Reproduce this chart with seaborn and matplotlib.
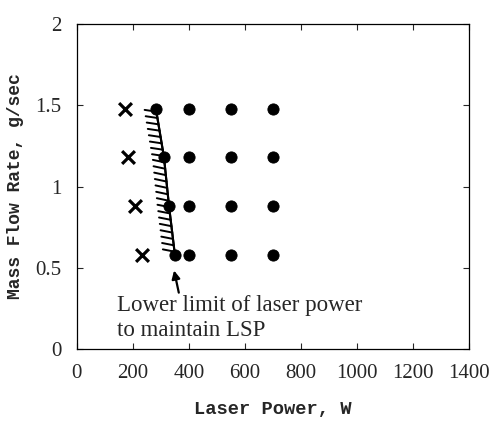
import matplotlib
matplotlib.use("Agg")
import matplotlib.pyplot as plt
import matplotlib.patheffects as pe
import seaborn as sns
import pandas as pd

# LSP maintained (filled circles)
lsp_power = [282, 400, 550, 700, 311, 400, 550, 700, 329, 400, 550, 700, 350, 400, 550, 700]
lsp_flow = [1.48, 1.48, 1.48, 1.48, 1.18, 1.18, 1.18, 1.18, 0.88, 0.88, 0.88, 0.88, 0.58, 0.58, 0.58, 0.58]

# LSP not maintained (crosses)
fail_power = [171, 182, 207, 232]
fail_flow = [1.48, 1.18, 0.88, 0.58]

# lower limit boundary (drawn bottom to top so hatching is on the left)
limit_power = [350, 329, 311, 282]
limit_flow = [0.58, 0.88, 1.18, 1.48]

x_ticks = [0, 200, 400, 600, 800, 1000, 1200, 1400]
y_ticks = [0, 0.5, 1, 1.5, 2]
y_tick_labels = ["0", "0.5", "1", "1.5", "2"]

sns.set_style("ticks")
plt.rcParams["font.family"] = ["Liberation Serif", "DejaVu Serif"]

fig = plt.figure(figsize=(4.93, 4.23), dpi=100)
ax = fig.add_axes([0.156, 0.175, 0.795, 0.768])

line_df = pd.DataFrame({"p": limit_power, "f": limit_flow})
sns.lineplot(data=line_df, x="p", y="f", sort=False, color="black", lw=1.5, ax=ax, zorder=2)
ax.lines[-1].set_path_effects([
    pe.Stroke(linewidth=1.5, foreground="black"),
    pe.withTickedStroke(angle=72, spacing=4.5, length=1.9, linewidth=1.4),
])

sns.scatterplot(x=lsp_power, y=lsp_flow, color="black", s=65, marker="o",
                edgecolor="black", ax=ax, zorder=3)
sns.scatterplot(x=fail_power, y=fail_flow, color="black", s=85, marker="x",
                linewidth=2.3, ax=ax, zorder=3)

ax.annotate("", xy=(345, 0.50), xytext=(366, 0.33),
            arrowprops=dict(arrowstyle="-|>", color="black", lw=1.6,
                            mutation_scale=12))
ax.text(143, 0.33, "Lower limit of laser power\nto maintain LSP",
        fontsize=16.5, ha="left", va="top", linespacing=1.25)

ax.set_xlim(0, 1400)
ax.set_ylim(0, 2)
ax.set_xticks(x_ticks)
ax.set_yticks(y_ticks)
ax.set_yticklabels(y_tick_labels)
ax.tick_params(direction="in", top=True, right=True, labelsize=15, length=4,
               width=0.8, pad=11)
for s in ax.spines.values():
    s.set_linewidth(0.9)
    s.set_color("black")

ax.set_xlabel("Laser Power, W", family="Liberation Mono", weight="bold",
              size=13.5, labelpad=13)
ax.set_ylabel("Mass Flow Rate, g/sec", family="Liberation Mono", weight="bold",
              size=13, labelpad=8)

fig.savefig("out.png", dpi=100)
